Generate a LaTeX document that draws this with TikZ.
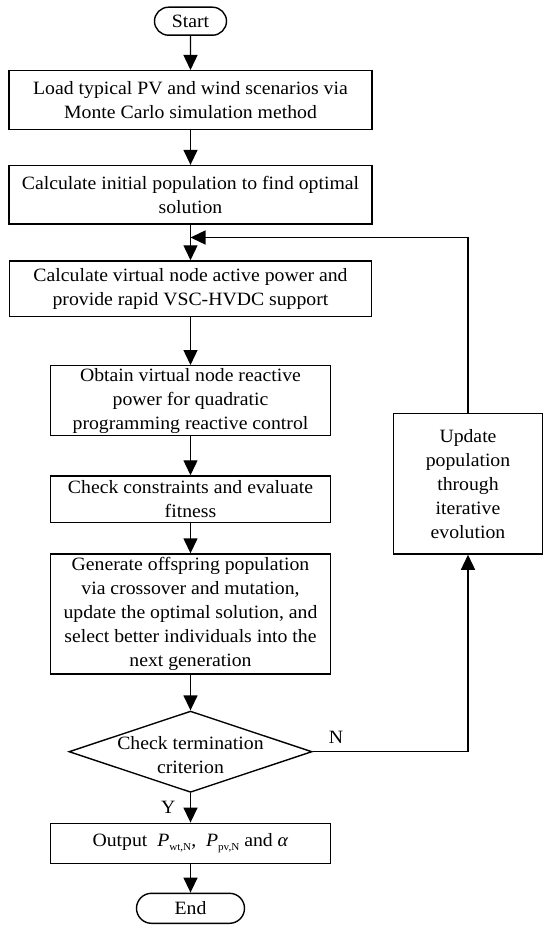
\documentclass[tikz,border=0pt]{standalone}
\usepackage{fontspec}
\setmainfont{Liberation Serif}[FakeStretch=1.05]
\usetikzlibrary{shapes, arrows.meta, positioning}

\newcommand{\indice}[1]{\raisebox{-3.5pt}{\fontsize{10.6}{12}\selectfont #1}}

\begin{document}
\begin{tikzpicture}[x=1pt, y=-1pt,
		caixa/.style={draw, line width=1.4pt, align=center, inner sep=0pt,
			font=\fontsize{18.8}{24}\selectfont},
		terminal/.style={caixa, rounded rectangle},
		decisao/.style={draw, line width=1.4pt, diamond, inner sep=0pt},
		seta/.style={line width=1.4pt, -{Triangle[length=15pt, width=14pt]}},
		rotulo/.style={font=\fontsize{18.8}{24}\selectfont}]
				\useasboundingbox (0,0) rectangle (550,931);
				
				%% Coluna principal
				\node [terminal, minimum width=72pt, minimum height=28pt] (start) at (190.5,21.2) {Start};
				
				\node [caixa, minimum width=363pt, minimum height=58.6pt] (load) at (190.5,100)
				{Load typical PV and wind scenarios via\\Monte Carlo simulation method};
				
				\node [caixa, minimum width=363pt, minimum height=58.5pt] (init) at (190.5,194.8)
				{Calculate initial population to find optimal\\solution};
				
				\node [caixa, minimum width=362pt, minimum height=55.7pt] (active) at (190.5,288.8)
				{Calculate virtual node active power and\\provide rapid VSC-HVDC support};
				
				\node [caixa, minimum width=280pt, minimum height=70pt] (reactive) at (190.5,400.7)
				{Obtain virtual node reactive\\power for quadratic\\programming reactive control};
				
				\node [caixa, minimum width=280pt, minimum height=46.7pt] (fitness) at (190.5,499.3)
				{Check constraints and evaluate\\fitness};
				
				\node [caixa, minimum width=280pt, minimum height=120pt] (offspring) at (190.5,614)
				{Generate offspring population\\via crossover and mutation,\\update the optimal solution, and\\select better individuals into the\\next generation};
				
				\node [decisao, minimum width=243pt, minimum height=81.3pt,
				label={[rotulo, align=center, yshift=-3pt]center:Check termination\\criterion}] (check) at (190.5,751.7) {};
				
				\node [caixa, minimum width=280pt, minimum height=40pt] (output) at (190.5,843.3)
				{Output\ \ \textit{P}\indice{wt,N},\ \ \textit{P}\indice{pv,N} and \textit{α}};
				
				\node [terminal, minimum width=108pt, minimum height=30pt] (end) at (190.5,908.3) {End};
				
				%% Laço de atualização
				\node [caixa, minimum width=149pt, minimum height=140.7pt] (update) at (468,483.7)
				{Update\\population\\through\\iterative\\evolution};
				
				\coordinate (retorno) at (190.5,237.5);
				
				%% Setas
				\draw [seta] (start) -- (load);
				\draw [seta] (load) -- (init);
				\draw [seta] (init) -- (active);
				\draw [seta] (active) -- (reactive);
				\draw [seta] (reactive) -- (fitness);
				\draw [seta] (fitness) -- (offspring);
				\draw [seta] (offspring) -- (check);
				\draw [seta] (check) -- (output)
				node [rotulo, midway, left=11pt] {Y};
				\draw [seta] (output) -- (end);
				
				\draw [seta] (check.east) -| (update.south)
				node [rotulo, pos=0.075, above=4pt] {N};
				\draw [seta] (update.north) |- (retorno);
				
			\end{tikzpicture}
\end{document}
